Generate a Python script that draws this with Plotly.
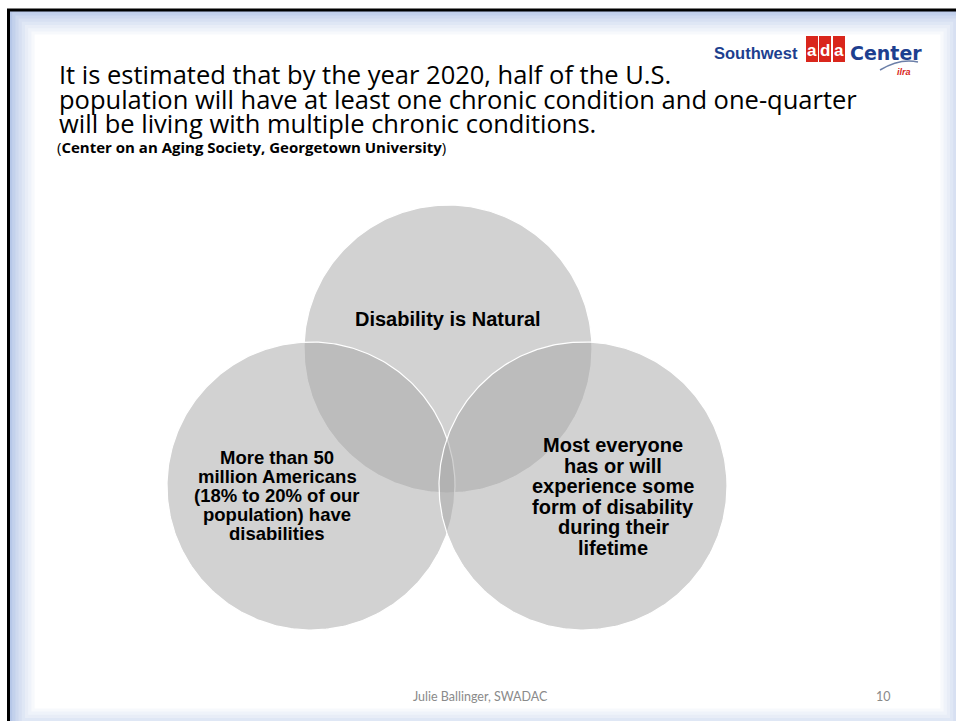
import numpy as np
import plotly.graph_objects as go

# ---- content ----
title_lines = [
    "It is estimated that by the year 2020, half of the U.S.",
    "population will have at least one chronic condition and one-quarter",
    "will be living with multiple chronic conditions.",
]
source_text = "(<b>Center on an Aging Society, Georgetown University</b>)"
set_labels_top = ["Disability is Natural"]
set_labels_left = ["More than 50", "million Americans", "(18% to 20% of our",
                   "population) have", "disabilities"]
set_labels_right = ["Most everyone", "has or will", "experience some",
                    "form of disability", "during their", "lifetime"]
footer_text = "Julie Ballinger, SWADAC"
page_number = "10"

# ---- venn geometry (layout) ----
circle_cx = [448, 311, 583]
circle_cy = [349, 486, 486]
circle_r = 144

W, H = 956, 721
fig = go.Figure()

# slide frame: stepped gradient blue -> white
shapes = []
outer = (9, 9, 966, 734)
n_steps = 9
c_out = np.array([182, 199, 232])
c_in = np.array([255, 255, 255])
for i in range(n_steps):
    t = (i / (n_steps - 1)) ** 0.8
    c = (c_out * (1 - t) + c_in * t).astype(int)
    d = i * 3.2
    shapes.append(dict(type="rect", xref="x", yref="y", layer="below",
                       x0=outer[0] + d, y0=outer[1] + d,
                       x1=outer[2] - d, y1=outer[3] - d,
                       fillcolor=f"rgb({c[0]},{c[1]},{c[2]})", line=dict(width=0)))
shapes.append(dict(type="rect", xref="x", yref="y", layer="below",
                   x0=37, y0=36, x1=938, y1=706, fillcolor="white", line=dict(width=0)))
# black border top/left
shapes.append(dict(type="line", xref="x", yref="y", x0=7, y0=10, x1=W + 5, y1=10,
                   line=dict(color="black", width=3)))
shapes.append(dict(type="line", xref="x", yref="y", x0=8.5, y0=9, x1=8.5, y1=H + 5,
                   line=dict(color="black", width=3)))

# logo: red "ada" blocks
for x0, x1 in [(806, 818), (819, 831), (833, 845)]:
    shapes.append(dict(type="rect", xref="x", yref="y", x0=x0, y0=36, x1=x1, y1=62,
                       fillcolor="#d9261c", line=dict(width=0)))
shapes.append(dict(type="path", xref="x", yref="y",
                   path="M 880 70 Q 900 58 918 62",
                   line=dict(color="#6b7fa8", width=1.5)))

# circles
theta = np.linspace(0, 2 * np.pi, 361)
for cx, cy in zip(circle_cx, circle_cy):
    fig.add_trace(go.Scatter(
        x=cx + circle_r * np.cos(theta), y=cy + circle_r * np.sin(theta),
        mode="lines", fill="toself", fillcolor="rgba(168,168,168,0.52)",
        line=dict(color="white", width=1.2), hoverinfo="skip", showlegend=False))

ann = []
title_font = dict(family="Open Sans, Lato, sans-serif", size=25.5, color="black")
for i, line in enumerate(title_lines):
    ann.append(dict(x=57, y=74 + i * 24.5, text=line, xanchor="left", yanchor="middle",
                    showarrow=False, font=title_font))
ann.append(dict(x=55, y=147, text=source_text, xanchor="left", yanchor="middle",
                showarrow=False, font=dict(family="Open Sans, sans-serif", size=15, color="black")))

venn_font = "Liberation Sans, Arial, sans-serif"
ann.append(dict(x=448, y=319, text=f"<b>{set_labels_top[0]}</b>", showarrow=False,
                xanchor="center", yanchor="middle",
                font=dict(family=venn_font, size=20, color="black")))
for i, line in enumerate(set_labels_left):
    ann.append(dict(x=277, y=457 + i * 19, text=f"<b>{line}</b>", showarrow=False,
                    xanchor="center", yanchor="middle",
                    font=dict(family=venn_font, size=18.5, color="black")))
for i, line in enumerate(set_labels_right):
    ann.append(dict(x=613, y=445 + i * 20.6, text=f"<b>{line}</b>", showarrow=False,
                    xanchor="center", yanchor="middle",
                    font=dict(family=venn_font, size=20, color="black")))

foot_font = dict(family="Lato, sans-serif", size=12.5, color="#8a8a8a")
ann.append(dict(x=480, y=696, text=footer_text, showarrow=False, xanchor="center",
                yanchor="middle", font=foot_font))
ann.append(dict(x=883, y=696, text=page_number, showarrow=False, xanchor="center",
                yanchor="middle", font=foot_font))

# logo texts
ann.append(dict(x=756, y=53, text="<b>Southwest</b>", showarrow=False, xanchor="center",
                yanchor="middle", font=dict(family=venn_font, size=16.5, color="#1d3f8f")))
ann.append(dict(x=886, y=53, text="<b>Center</b>", showarrow=False, xanchor="center",
                yanchor="middle", font=dict(family="DejaVu Sans, sans-serif", size=19, color="#1d3f8f")))
for x, ch in [(812, "a"), (825, "d"), (839, "a")]:
    ann.append(dict(x=x, y=50, text=f"<b>{ch}</b>", showarrow=False, xanchor="center",
                    yanchor="middle", font=dict(family=venn_font, size=17, color="white")))
ann.append(dict(x=904, y=72, text="<b><i>ilra</i></b>", showarrow=False, xanchor="center",
                yanchor="middle", font=dict(family=venn_font, size=9, color="#d9261c")))

fig.update_layout(
    width=W, height=H, margin=dict(l=0, r=0, t=0, b=0),
    paper_bgcolor="white", plot_bgcolor="rgba(0,0,0,0)",
    xaxis=dict(range=[0, W], visible=False, fixedrange=True),
    yaxis=dict(range=[H, 0], visible=False, fixedrange=True),
    shapes=shapes, annotations=ann, showlegend=False,
)
fig.write_html("out.html", config={"displayModeBar": False},
               post_script="document.body.style.margin='0';document.body.style.overflow='hidden';")
